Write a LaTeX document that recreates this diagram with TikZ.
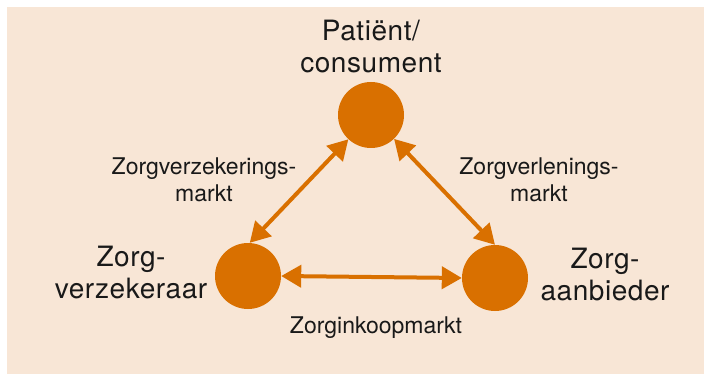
\documentclass[tikz,border=0pt]{standalone}
\usepackage{fontspec}
\setmainfont{TeX Gyre Heros}
\newfontfamily\partyfont[LetterSpace=2]{TeX Gyre Heros}
\usetikzlibrary{arrows.meta}
\definecolor{zorgbg}{RGB}{248,230,214}
\definecolor{zorgoranje}{RGB}{217,112,0}
\definecolor{zorgtekst}{RGB}{25,25,25}
\begin{document}
\begin{tikzpicture}[x=1pt,y=-1pt,
  party/.style={circle, fill=zorgoranje, minimum size=66pt, inner sep=0pt},
  biglabel/.style={align=center, anchor=base, text=zorgtekst,
    font=\partyfont\fontsize{28}{32}\selectfont, inner sep=0pt},
  marketlabel/.style={align=center, anchor=base, text=zorgtekst,
    font=\fontsize{23}{27}\selectfont, inner sep=0pt},
  market/.style={draw=zorgoranje, line width=4pt,
    {Triangle[length=20pt,width=22pt]}-{Triangle[length=20pt,width=22pt]}}]
  \useasboundingbox (0,0) rectangle (704,374);
  \fill[zorgbg] (7,7) rectangle (704,374);

  % the three parties
  \node[party] (pat)  at (371,115) {};
  \node[party] (verz) at (248,276) {};
  \node[party] (aanb) at (495,278) {};

  % labels: the anchor sits on the baseline of the last line
  \node[biglabel] (patlbl)  at (371,73)  {Patiënt/\\consument};
  \node[biglabel] (verzlbl) at (131,298) {Zorg-\\verzekeraar};
  \node[biglabel] (aanblbl) at (605,300) {Zorg-\\aanbieder};

  % the three markets between them
  \draw[market] (pat.227) -- (verz.87);
  \draw[market] (pat.314) -- (aanb.90);
  \draw[market] (verz.east) -- (aanb.west);

  \node[marketlabel] (m1) at (204,202) {Zorgverzekerings-\\markt};
  \node[marketlabel] (m2) at (539,202) {Zorgverlenings-\\markt};
  \node[marketlabel] (m3) at (376,333) {Zorginkoopmarkt};
\end{tikzpicture}
\end{document}
